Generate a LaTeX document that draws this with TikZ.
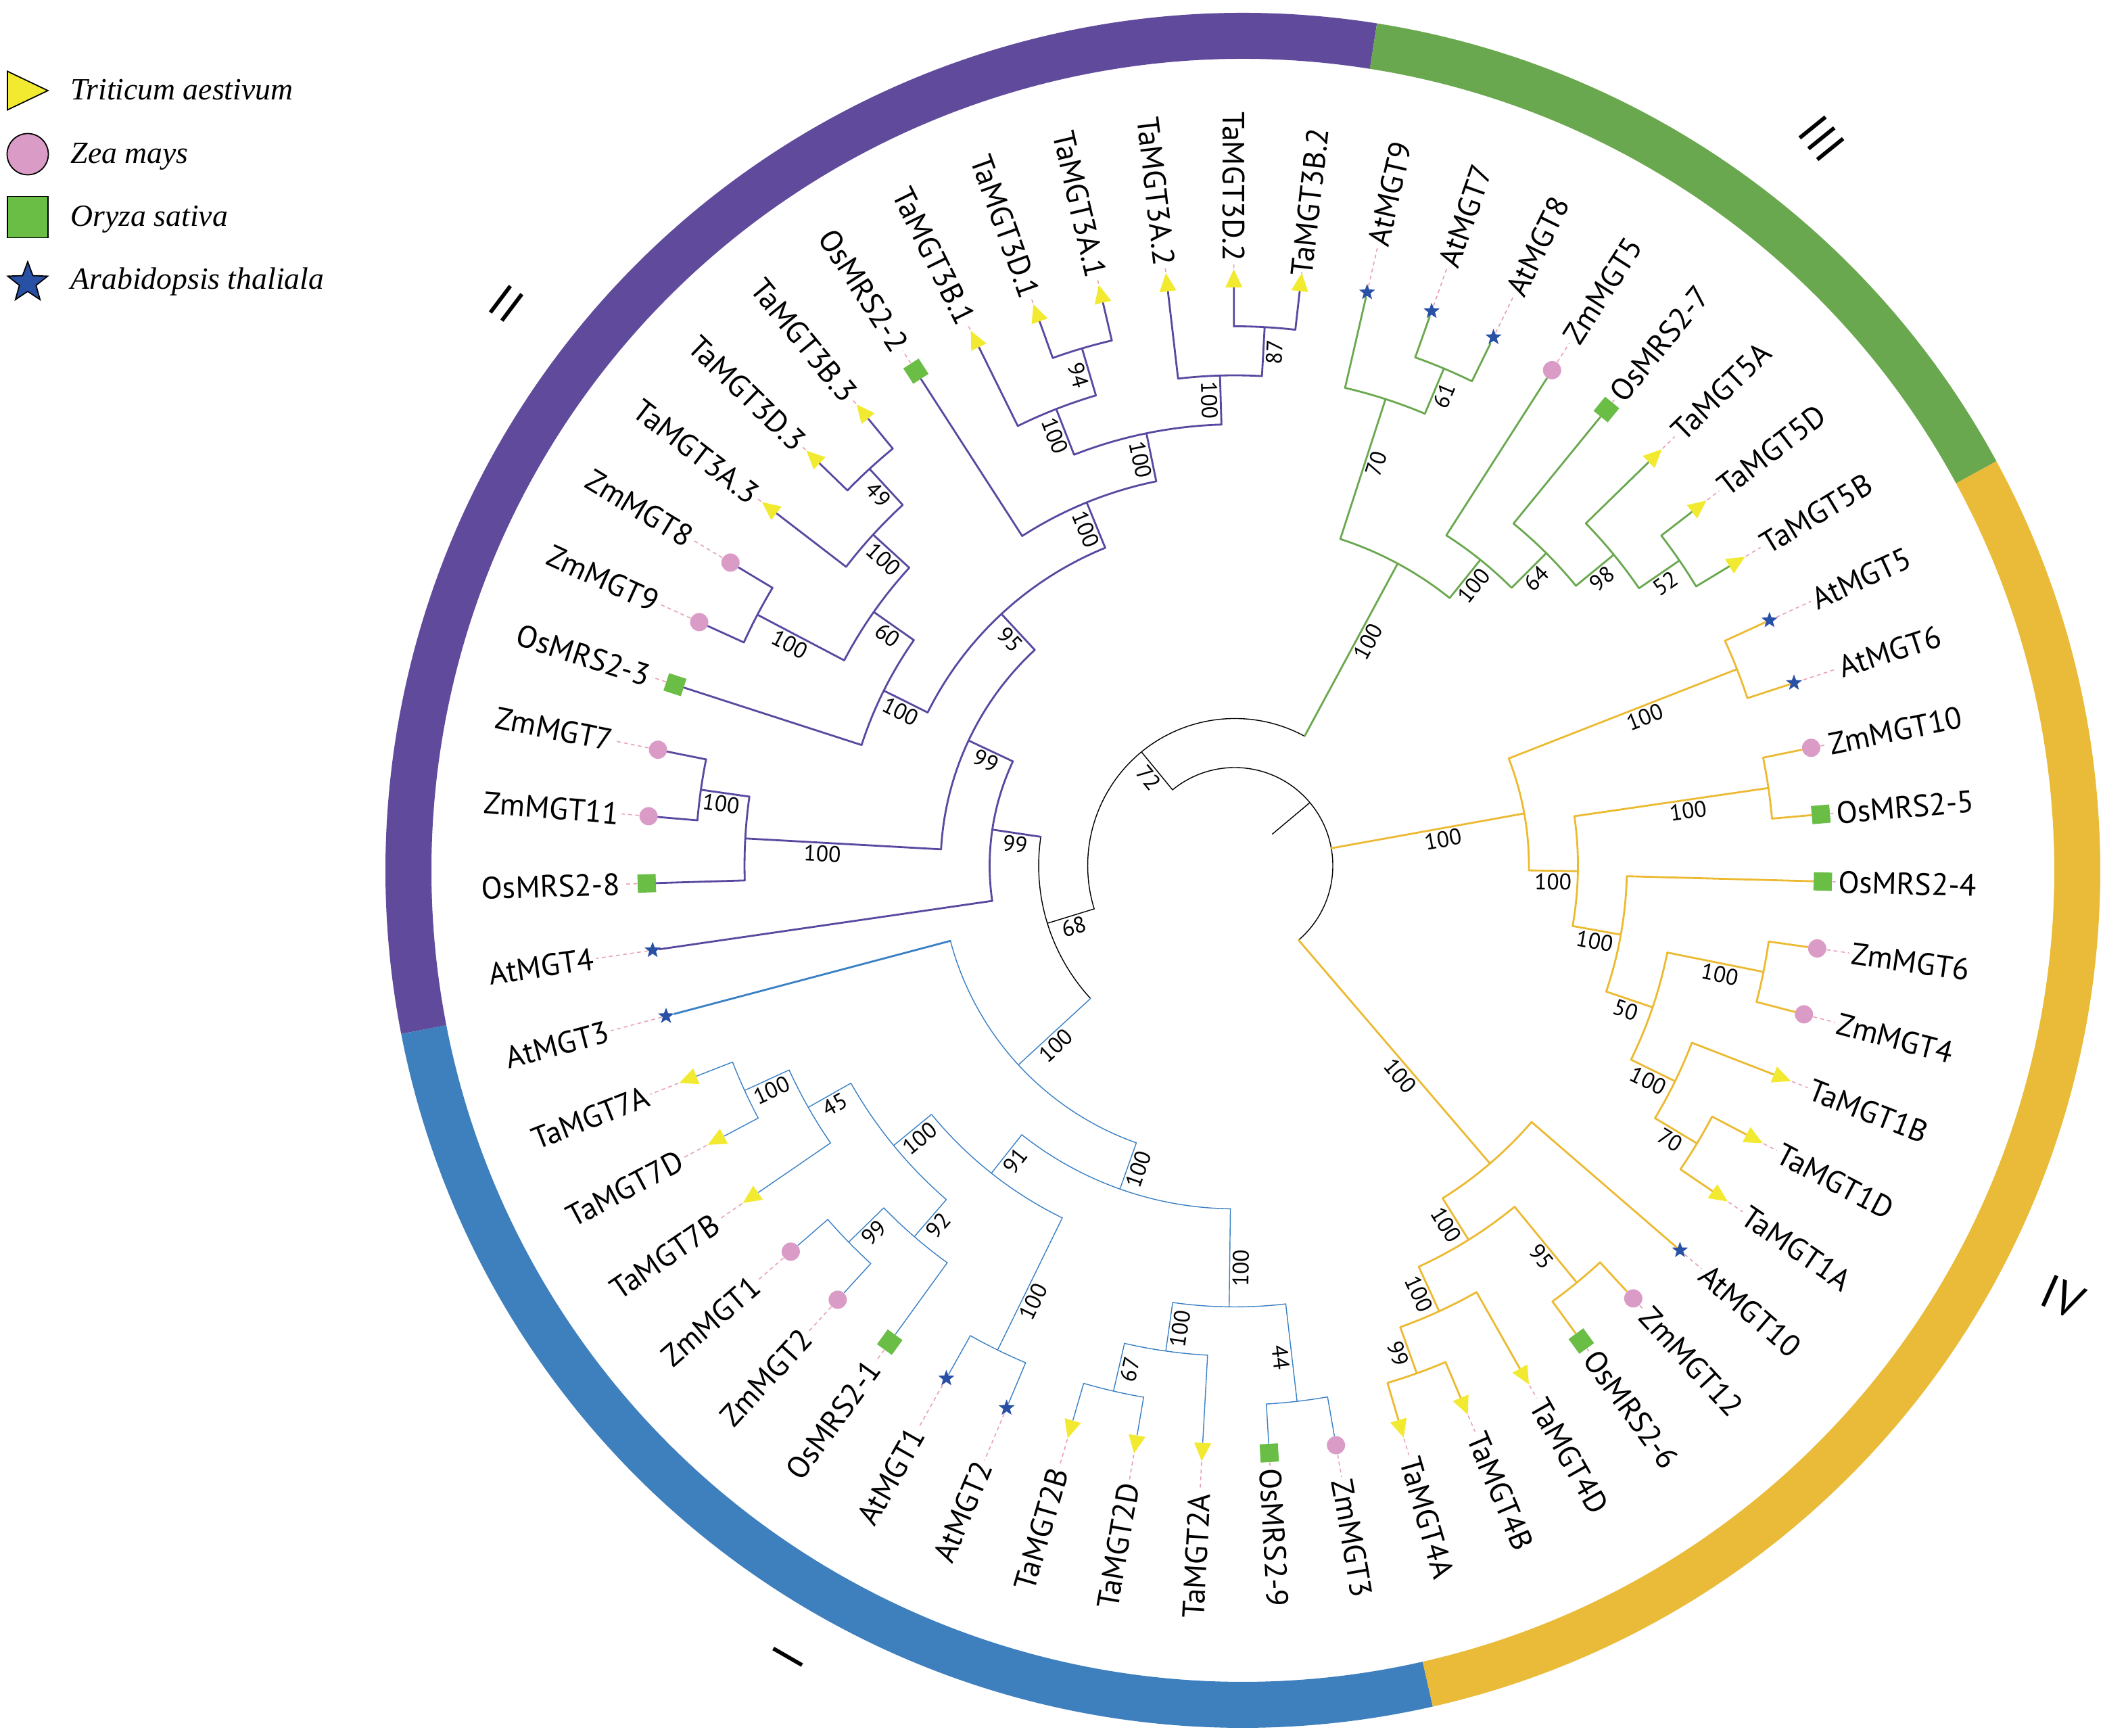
\documentclass[tikz,border=0pt]{standalone}
\usepackage{fontspec}
\setmainfont{PT Sans}
\newfontfamily\legendfont{Liberation Serif}
\usetikzlibrary{shapes.geometric}

\definecolor{ringP}{RGB}{96,74,155}
\definecolor{ringG}{RGB}{106,168,79}
\definecolor{ringY}{RGB}{233,187,56}
\definecolor{ringB}{RGB}{62,127,190}
\definecolor{clP}{RGB}{90,72,160}
\definecolor{clG}{RGB}{106,168,79}
\definecolor{clY}{RGB}{236,186,50}
\definecolor{clB}{RGB}{58,128,196}
\definecolor{clDot}{RGB}{232,160,180}
\definecolor{mkY}{RGB}{242,234,48}
\definecolor{mkP}{RGB}{218,155,198}
\definecolor{mkG}{RGB}{106,189,69}
\definecolor{mkB}{RGB}{40,80,165}

\begin{document}
\begin{tikzpicture}
[brG/.style={draw=clG, line width=0.8pt, line cap=round},
brP/.style={draw=clP, line width=0.8pt, line cap=round},
brY/.style={draw=clY, line width=0.8pt, line cap=round},
brB/.style={draw=clB, line width=0.4pt, line cap=round},
brK/.style={draw=black, line width=0.4pt, line cap=round},
ring/.style={line width=0.68cm},
tri/.style={isosceles triangle, isosceles triangle apex angle=50, fill=mkY, inner sep=0pt, minimum height=0.27cm},
circ/.style={circle, fill=mkP, inner sep=0pt, minimum size=0.27cm},
sq/.style={rectangle, fill=mkG, inner sep=0pt, minimum size=0.27cm},
st/.style={star, star points=5, star point ratio=2.4, fill=mkB, inner sep=0pt, minimum size=0.25cm},
lbl/.style={font=\fontsize{13}{15}\selectfont, inner sep=0pt},
lblR/.style={lbl, anchor=east},
lblL/.style={lbl, anchor=west},
bs/.style={font=\fontsize{9.5}{11}\selectfont, anchor=north, inner sep=1pt},
dots/.style={draw=clDot, line width=0.45pt, dash pattern=on 1.6pt off 1.4pt, shorten >=1pt},
num/.style={font=\fontsize{20}{24}\selectfont, inner sep=0pt},
leg/.style={font=\legendfont\itshape\fontsize{13}{15}\selectfont, anchor=base west, inner sep=0pt}]

\useasboundingbox (0,0) rectangle (31.1,25.66);

% legend
\node[tri, draw=black, line width=0.5pt, minimum height=0.6cm, isosceles triangle apex angle=51, anchor=west] (kTa) at (0.10,24.32) {};
\node[leg] (tTa) at (1.04,24.18) {Triticum aestivum};
\node[circ, draw=black, line width=0.5pt, minimum size=0.61cm] (kZm) at (0.41,23.38) {};
\node[leg] (tZm) at (1.04,23.24) {Zea mays};
\node[sq, draw=black, line width=0.5pt, minimum width=0.6cm, minimum height=0.61cm] (kOs) at (0.41,22.45) {};
\node[leg] (tOs) at (1.04,22.31) {Oryza sativa};
\node[st, draw=black, line width=0.5pt, minimum size=0.62cm] (kAt) at (0.41,21.48) {};
\node[leg] (tAt) at (1.04,21.38) {Arabidopsis thaliala};

% outer ring
\begin{scope}[shift={(18.38,12.79)}]
\draw[ring, draw=ringP] (81:12.34) arc[start angle=81, end angle=191, radius=12.34cm];
\draw[ring, draw=ringB] (191:12.34) arc[start angle=191, end angle=282.8, radius=12.34cm];
\draw[ring, draw=ringY] (-77.2:12.34) arc[start angle=-77.2, end angle=28.5, radius=12.34cm];
\draw[ring, draw=ringG] (28.5:12.34) arc[start angle=28.5, end angle=81, radius=12.34cm];
\end{scope}

\node[num, rotate=-51] (gIII) at (26.94,23.61) {III};
\node[num, rotate=-37] (gII) at (7.49,21.17) {II};
\node[num, rotate=-24] (gIV) at (30.50,6.48) {IV};
\node[num, rotate=60] (gI) at (11.65,1.16) {I};

\begin{scope}[shift={(18.26,12.86)}]
% backbone
\draw[brK] (40:0.725) -- (40:1.45) (-49.41:1.45) arc[start angle=-49.41, end angle=129.38, radius=1.45cm];
\draw[brK] (129.38:1.45) -- (129.38:2.175) (61.66:2.175) arc[start angle=61.66, end angle=197.1, radius=2.175cm];
\draw[brK] (197.1:2.175) -- (197.1:2.9) (171.55:2.9) arc[start angle=171.55, end angle=222.64, radius=2.9cm];
\node[bs, rotate=-50.62] (b72) at (129.38:1.81) {72};
\node[bs, rotate=17.1] (b68) at (197.1:2.54) {68};

% clade III
\draw[brG] (61.66:2.175) -- (61.66:5.075) (51.23:5.075) arc[start angle=51.23, end angle=72.09, radius=5.075cm];
\draw[brG] (72.09:5.075) -- (72.09:7.25) (67.18:7.25) arc[start angle=67.18, end angle=77, radius=7.25cm];
\draw[brG] (67.18:7.25) -- (67.18:7.975) (63.91:7.975) arc[start angle=63.91, end angle=70.45, radius=7.975cm];
\draw[brG] (51.23:5.075) -- (51.23:5.8) (45.09:5.8) arc[start angle=45.09, end angle=57.36, radius=5.8cm];
\draw[brG] (45.09:5.8) -- (45.09:6.525) (39.36:6.525) arc[start angle=39.36, end angle=50.82, radius=6.525cm];
\draw[brG] (39.36:6.525) -- (39.36:7.25) (34.455:7.25) arc[start angle=34.455, end angle=44.27, radius=7.25cm];
\draw[brG] (34.455:7.25) -- (34.455:7.975) (31.18:7.975) arc[start angle=31.18, end angle=37.73, radius=7.975cm];
\node[bs, rotate=61.66] (bIII) at (61.66:3.85) {100};
\node[bs, rotate=72.09] (b70) at (72.09:6.3) {70};
\node[bs, rotate=67.18] (b61) at (67.18:7.61) {61};
\node[bs, rotate=51.23] (b100c) at (51.23:5.44) {100};
\node[bs, rotate=45.09] (b64) at (45.09:6.16) {64};
\node[bs, rotate=39.36] (b98) at (39.36:6.89) {98};
\node[bs, rotate=34.455] (b52) at (34.455:7.61) {52};

\node[st] (at9) at (77:8.7) {};
\draw[brG] (77:7.25) -- (at9);
\node[lblR, rotate=77] (lat9) at (77:10.98) {AtMGT9};
\draw[dots] (at9) -- (lat9.west);
\node[st] (at7) at (70.45:8.7) {};
\draw[brG] (70.45:7.975) -- (at7);
\node[lblR, rotate=70.45] (lat7) at (70.45:10.98) {AtMGT7};
\draw[dots] (at7) -- (lat7.west);
\node[st] (at8) at (63.91:8.7) {};
\draw[brG] (63.91:7.975) -- (at8);
\node[lblR, rotate=63.91] (lat8) at (63.91:10.98) {AtMGT8};
\draw[dots] (at8) -- (lat8.west);
\node[circ] (zm5) at (57.36:8.7) {};
\draw[brG] (57.36:5.8) -- (zm5);
\node[lblR, rotate=57.36] (lzm5) at (57.36:10.98) {ZmMGT5};
\draw[dots] (zm5) -- (lzm5.west);
\node[sq, rotate=50.82] (os27) at (50.82:8.7) {};
\draw[brG] (50.82:6.525) -- (os27);
\node[lblR, rotate=50.82] (los27) at (50.82:10.98) {OsMRS2-7};
\draw[dots] (os27) -- (los27.west);
\node[tri, rotate=44.27] (ta5a) at (44.27:8.63) {};
\draw[brG] (44.27:7.25) -- (ta5a);
\node[lblR, rotate=44.27] (lta5a) at (44.27:10.98) {TaMGT5A};
\draw[dots] (ta5a) -- (lta5a.west);
\node[tri, rotate=37.73] (ta5d) at (37.73:8.63) {};
\draw[brG] (37.73:7.975) -- (ta5d);
\node[lblR, rotate=37.73] (lta5d) at (37.73:10.98) {TaMGT5D};
\draw[dots] (ta5d) -- (lta5d.west);
\node[tri, rotate=31.18] (ta5b) at (31.18:8.63) {};
\draw[brG] (31.18:7.975) -- (ta5b);
\node[lblR, rotate=31.18] (lta5b) at (31.18:10.98) {TaMGT5B};
\draw[dots] (ta5b) -- (lta5b.west);

% clade IV
\draw[brY] (10.22:1.45) -- (10.22:4.35) (-0.93:4.35) arc[start angle=-0.93, end angle=21.365, radius=4.35cm];
\draw[brY] (21.365:4.35) -- (21.365:7.975) (18.09:7.975) arc[start angle=18.09, end angle=24.64, radius=7.975cm];
\draw[brY] (-0.93:4.35) -- (-0.93:5.075) (-10.14:5.075) arc[start angle=-10.14, end angle=8.275, radius=5.075cm];
\draw[brY] (8.275:5.075) -- (8.275:7.975) (5:7.975) arc[start angle=5, end angle=11.55, radius=7.975cm];
\draw[brY] (-10.14:5.075) -- (-10.14:5.8) (-18.73:5.8) arc[start angle=-18.73, end angle=-1.55, radius=5.8cm];
\draw[brY] (-18.73:5.8) -- (-18.73:6.525) (-26.09:6.525) arc[start angle=-26.09, end angle=-11.365, radius=6.525cm];
\draw[brY] (-11.365:6.525) -- (-11.365:7.975) (-14.64:7.975) arc[start angle=-14.64, end angle=-8.09, radius=7.975cm];
\draw[brY] (-26.09:6.525) -- (-26.09:7.25) (-31:7.25) arc[start angle=-31, end angle=-21.18, radius=7.25cm];
\draw[brY] (-31:7.25) -- (-31:7.975) (-34.27:7.975) arc[start angle=-34.27, end angle=-27.73, radius=7.975cm];
\draw[brY] (-49.41:1.45) -- (-49.41:5.8) (-58:5.8) arc[start angle=-58, end angle=-40.82, radius=5.8cm];
\draw[brY] (-58:5.8) -- (-58:6.525) (-65.36:6.525) arc[start angle=-65.36, end angle=-50.635, radius=6.525cm];
\draw[brY] (-50.635:6.525) -- (-50.635:7.975) (-53.91:7.975) arc[start angle=-53.91, end angle=-47.36, radius=7.975cm];
\draw[brY] (-65.36:6.525) -- (-65.36:7.25) (-70.275:7.25) arc[start angle=-70.275, end angle=-60.45, radius=7.25cm];
\draw[brY] (-70.275:7.25) -- (-70.275:7.975) (-73.55:7.975) arc[start angle=-73.55, end angle=-67, radius=7.975cm];
\node[bs, rotate=10.22] (bIVa) at (10.22:3.1) {100};
\node[bs, rotate=-49.41] (bIVb) at (-49.41:3.95) {100};
\node[bs, rotate=21.365] (bAt56) at (21.365:6.45) {100};
\node[bs, rotate=-0.93] (b100s) at (-0.93:4.71) {100};
\node[bs, rotate=8.275] (bZmOs) at (8.275:6.75) {100};
\node[bs, rotate=-10.14] (b100r) at (-10.14:5.44) {100};
\node[bs, rotate=-18.73] (b50) at (-18.73:6.16) {50};
\node[bs, rotate=-11.365] (bZm64) at (-11.365:7.35) {100};
\node[bs, rotate=-26.09] (b1B) at (-26.09:6.89) {100};
\node[bs, rotate=-31] (b70b) at (-31:7.61) {70};
\node[bs, rotate=-58] (b100q) at (-58:6.16) {100};
\node[bs, rotate=-50.635] (b95b) at (-50.635:7.35) {95};
\node[bs, rotate=-65.36] (b100p) at (-65.36:6.89) {100};
\node[bs, rotate=-70.275] (b99d) at (-70.275:7.61) {99};

\node[st] (at5) at (24.64:8.7) {};
\draw[brY] (24.64:7.975) -- (at5);
\node[lblR, rotate=24.64] (lat5) at (24.64:10.98) {AtMGT5};
\draw[dots] (at5) -- (lat5.west);
\node[st] (at6) at (18.09:8.7) {};
\draw[brY] (18.09:7.975) -- (at6);
\node[lblR, rotate=18.09] (lat6) at (18.09:10.98) {AtMGT6};
\draw[dots] (at6) -- (lat6.west);
\node[circ] (zm10) at (11.55:8.7) {};
\draw[brY] (11.55:7.975) -- (zm10);
\node[lblR, rotate=11.55] (lzm10) at (11.55:10.98) {ZmMGT10};
\draw[dots] (zm10) -- (lzm10.west);
\node[sq, rotate=5] (os25) at (5:8.7) {};
\draw[brY] (5:7.975) -- (os25);
\node[lblR, rotate=5] (los25) at (5:10.98) {OsMRS2-5};
\draw[dots] (os25) -- (los25.west);
\node[sq, rotate=-1.55] (os24) at (-1.55:8.7) {};
\draw[brY] (-1.55:5.8) -- (os24);
\node[lblR, rotate=-1.55] (los24) at (-1.55:10.98) {OsMRS2-4};
\draw[dots] (os24) -- (los24.west);
\node[circ] (zm6) at (-8.09:8.7) {};
\draw[brY] (-8.09:7.975) -- (zm6);
\node[lblR, rotate=-8.09] (lzm6) at (-8.09:10.98) {ZmMGT6};
\draw[dots] (zm6) -- (lzm6.west);
\node[circ] (zm4) at (-14.64:8.7) {};
\draw[brY] (-14.64:7.975) -- (zm4);
\node[lblR, rotate=-14.64] (lzm4) at (-14.64:10.98) {ZmMGT4};
\draw[dots] (zm4) -- (lzm4.west);
\node[tri, rotate=-21.18] (ta1b) at (-21.18:8.63) {};
\draw[brY] (-21.18:7.25) -- (ta1b);
\node[lblR, rotate=-21.18] (lta1b) at (-21.18:10.98) {TaMGT1B};
\draw[dots] (ta1b) -- (lta1b.west);
\node[tri, rotate=-27.73] (ta1d) at (-27.73:8.63) {};
\draw[brY] (-27.73:7.975) -- (ta1d);
\node[lblR, rotate=-27.73] (lta1d) at (-27.73:10.98) {TaMGT1D};
\draw[dots] (ta1d) -- (lta1d.west);
\node[tri, rotate=-34.27] (ta1a) at (-34.27:8.63) {};
\draw[brY] (-34.27:7.975) -- (ta1a);
\node[lblR, rotate=-34.27] (lta1a) at (-34.27:10.98) {TaMGT1A};
\draw[dots] (ta1a) -- (lta1a.west);
\node[st] (at10) at (-40.82:8.7) {};
\draw[brY] (-40.82:5.8) -- (at10);
\node[lblR, rotate=-40.82] (lat10) at (-40.82:10.98) {AtMGT10};
\draw[dots] (at10) -- (lat10.west);
\node[circ] (zm12) at (-47.36:8.7) {};
\draw[brY] (-47.36:7.975) -- (zm12);
\node[lblR, rotate=-47.36] (lzm12) at (-47.36:10.98) {ZmMGT12};
\draw[dots] (zm12) -- (lzm12.west);
\node[sq, rotate=-53.91] (os26) at (-53.91:8.7) {};
\draw[brY] (-53.91:7.975) -- (os26);
\node[lblR, rotate=-53.91] (los26) at (-53.91:10.98) {OsMRS2-6};
\draw[dots] (os26) -- (los26.west);
\node[tri, rotate=-60.45] (ta4d) at (-60.45:8.63) {};
\draw[brY] (-60.45:7.25) -- (ta4d);
\node[lblR, rotate=-60.45] (lta4d) at (-60.45:10.98) {TaMGT4D};
\draw[dots] (ta4d) -- (lta4d.west);
\node[tri, rotate=-67] (ta4b) at (-67:8.63) {};
\draw[brY] (-67:7.975) -- (ta4b);
\node[lblR, rotate=-67] (lta4b) at (-67:10.98) {TaMGT4B};
\draw[dots] (ta4b) -- (lta4b.west);
\node[tri, rotate=-73.55] (ta4a) at (-73.55:8.63) {};
\draw[brY] (-73.55:7.975) -- (ta4a);
\node[lblR, rotate=-73.55] (lta4a) at (-73.55:10.98) {TaMGT4A};
\draw[dots] (ta4a) -- (lta4a.west);

% clade I
\draw[brB] (222.64:2.9) -- (222.64:4.35) (194.82:4.35) arc[start angle=194.82, end angle=250.45, radius=4.35cm];
\draw[brB] (250.45:4.35) -- (250.45:5.075) (231.64:5.075) arc[start angle=231.64, end angle=269.27, radius=5.075cm];
\draw[brB] (231.64:5.075) -- (231.64:5.8) (219.36:5.8) arc[start angle=219.36, end angle=243.91, radius=5.8cm];
\draw[brB] (219.36:5.8) -- (219.36:6.525) (209.54:6.525) arc[start angle=209.54, end angle=229.18, radius=6.525cm];
\draw[brB] (209.54:6.525) -- (209.54:7.25) (204.635:7.25) arc[start angle=204.635, end angle=214.45, radius=7.25cm];
\draw[brB] (204.635:7.25) -- (204.635:7.975) (201.36:7.975) arc[start angle=201.36, end angle=207.91, radius=7.975cm];
\draw[brB] (229.18:6.525) -- (229.18:7.25) (224.275:7.25) arc[start angle=224.275, end angle=234.09, radius=7.25cm];
\draw[brB] (224.275:7.25) -- (224.275:7.975) (221:7.975) arc[start angle=221, end angle=227.55, radius=7.975cm];
\draw[brB] (243.91:5.8) -- (243.91:7.975) (240.64:7.975) arc[start angle=240.64, end angle=247.18, radius=7.975cm];
\draw[brB] (269.27:5.075) -- (269.27:6.525) (261.91:6.525) arc[start angle=261.91, end angle=276.635, radius=6.525cm];
\draw[brB] (261.91:6.525) -- (261.91:7.25) (257:7.25) arc[start angle=257, end angle=266.82, radius=7.25cm];
\draw[brB] (257:7.25) -- (257:7.975) (253.73:7.975) arc[start angle=253.73, end angle=260.27, radius=7.975cm];
\draw[brB] (276.635:6.525) -- (276.635:7.975) (273.36:7.975) arc[start angle=273.36, end angle=279.91, radius=7.975cm];
\node[bs, rotate=42.64] (bI) at (222.64:3.75) {100};
\node[bs, rotate=70.45] (b100a) at (250.45:4.71) {100};
\node[bs, rotate=51.64] (b91) at (231.64:5.44) {91};
\node[bs, rotate=39.36] (b100l) at (219.36:6.16) {100};
\node[bs, rotate=29.54] (b45) at (209.54:6.89) {45};
\node[bs, rotate=24.635] (b7AD) at (204.635:7.61) {100};
\node[bs, rotate=49.18] (b92) at (229.18:6.89) {92};
\node[bs, rotate=44.275] (bZm12) at (224.275:7.61) {99};
\node[bs, rotate=63.91] (b100m) at (243.91:7.1) {100};
\node[bs, rotate=89.27] (b100k) at (269.27:5.95) {100};
\node[bs, rotate=81.91] (b100j) at (261.91:6.89) {100};
\node[bs, rotate=77] (b67) at (257:7.61) {67};
\node[bs, rotate=-83.365] (b44) at (-83.365:7.3) {44};

\node[circ] (zm3) at (-80.09:8.7) {};
\draw[brB] (-80.09:7.975) -- (zm3);
\node[lblR, rotate=-80.09] (lzm3) at (-80.09:10.98) {ZmMGT3};
\draw[dots] (zm3) -- (lzm3.west);
\node[sq, rotate=-86.64] (os29) at (-86.64:8.7) {};
\draw[brB] (-86.64:7.975) -- (os29);
\node[lblR, rotate=-86.64] (los29) at (-86.64:10.98) {OsMRS2-9};
\draw[dots] (os29) -- (los29.west);
\node[tri, rotate=266.82] (ta2a) at (266.82:8.63) {};
\draw[brB] (266.82:7.25) -- (ta2a);
\node[lblL, rotate=86.82] (lta2a) at (266.82:11.15) {TaMGT2A};
\draw[dots] (ta2a) -- (lta2a.east);
\node[tri, rotate=260.27] (ta2d) at (260.27:8.63) {};
\draw[brB] (260.27:7.975) -- (ta2d);
\node[lblL, rotate=80.27] (lta2d) at (260.27:11.15) {TaMGT2D};
\draw[dots] (ta2d) -- (lta2d.east);
\node[tri, rotate=253.73] (ta2b) at (253.73:8.63) {};
\draw[brB] (253.73:7.975) -- (ta2b);
\node[lblL, rotate=73.73] (lta2b) at (253.73:11.15) {TaMGT2B};
\draw[dots] (ta2b) -- (lta2b.east);
\node[st] (at2) at (247.18:8.7) {};
\draw[brB] (247.18:7.975) -- (at2);
\node[lblL, rotate=67.18] (lat2) at (247.18:11.15) {AtMGT2};
\draw[dots] (at2) -- (lat2.east);
\node[st] (at1) at (240.64:8.7) {};
\draw[brB] (240.64:7.975) -- (at1);
\node[lblL, rotate=60.64] (lat1) at (240.64:11.15) {AtMGT1};
\draw[dots] (at1) -- (lat1.east);
\node[sq, rotate=234.09] (os21) at (234.09:8.7) {};
\draw[brB] (234.09:7.25) -- (os21);
\node[lblL, rotate=54.09] (los21) at (234.09:11.15) {OsMRS2-1};
\draw[dots] (os21) -- (los21.east);
\node[circ] (zm2) at (227.55:8.7) {};
\draw[brB] (227.55:7.975) -- (zm2);
\node[lblL, rotate=47.55] (lzm2) at (227.55:11.15) {ZmMGT2};
\draw[dots] (zm2) -- (lzm2.east);
\node[circ] (zm1) at (221:8.7) {};
\draw[brB] (221:7.975) -- (zm1);
\node[lblL, rotate=41] (lzm1) at (221:11.15) {ZmMGT1};
\draw[dots] (zm1) -- (lzm1.east);
\node[tri, rotate=214.45] (ta7b) at (214.45:8.63) {};
\draw[brB] (214.45:7.25) -- (ta7b);
\node[lblL, rotate=34.45] (lta7b) at (214.45:11.15) {TaMGT7B};
\draw[dots] (ta7b) -- (lta7b.east);
\node[tri, rotate=207.91] (ta7d) at (207.91:8.63) {};
\draw[brB] (207.91:7.975) -- (ta7d);
\node[lblL, rotate=27.91] (lta7d) at (207.91:11.15) {TaMGT7D};
\draw[dots] (ta7d) -- (lta7d.east);
\node[tri, rotate=201.36] (ta7a) at (201.36:8.63) {};
\draw[brB] (201.36:7.975) -- (ta7a);
\node[lblL, rotate=21.36] (lta7a) at (201.36:11.15) {TaMGT7A};
\draw[dots] (ta7a) -- (lta7a.east);
\node[st] (at3) at (194.82:8.7) {};
\draw[brB, line width=0.8pt] (194.82:4.35) -- (at3);
\node[lblL, rotate=14.82] (lat3) at (194.82:11.15) {AtMGT3};
\draw[dots] (at3) -- (lat3.east);

% clade II
\draw[brP] (171.55:2.9) -- (171.55:3.625) (154.83:3.625) arc[start angle=154.83, end angle=188.27, radius=3.625cm];
\draw[brP] (154.83:3.625) -- (154.83:4.35) (132.84:4.35) arc[start angle=132.84, end angle=176.82, radius=4.35cm];
\draw[brP] (176.82:4.35) -- (176.82:7.25) (171.91:7.25) arc[start angle=171.91, end angle=181.73, radius=7.25cm];
\draw[brP] (171.91:7.25) -- (171.91:7.975) (168.64:7.975) arc[start angle=168.64, end angle=175.18, radius=7.975cm];
\draw[brP] (132.84:4.35) -- (132.84:5.075) (112.18:5.075) arc[start angle=112.18, end angle=153.5, radius=5.075cm];
\draw[brP] (153.5:5.075) -- (153.5:5.8) (144.91:5.8) arc[start angle=144.91, end angle=162.09, radius=5.8cm];
\draw[brP] (144.91:5.8) -- (144.91:6.525) (137.54:6.525) arc[start angle=137.54, end angle=152.275, radius=6.525cm];
\draw[brP] (152.275:6.525) -- (152.275:7.975) (149:7.975) arc[start angle=149, end angle=155.55, radius=7.975cm];
\draw[brP] (137.54:6.525) -- (137.54:7.25) (132.635:7.25) arc[start angle=132.635, end angle=142.45, radius=7.25cm];
\draw[brP] (132.635:7.25) -- (132.635:7.975) (129.36:7.975) arc[start angle=129.36, end angle=135.91, radius=7.975cm];
\draw[brP] (112.18:5.075) -- (112.18:5.8) (101.55:5.8) arc[start angle=101.55, end angle=122.82, radius=5.8cm];
\draw[brP] (101.55:5.8) -- (101.55:6.525) (91.73:6.525) arc[start angle=91.73, end angle=111.36, radius=6.525cm];
\draw[brP] (111.36:6.525) -- (111.36:7.25) (106.455:7.25) arc[start angle=106.455, end angle=116.27, radius=7.25cm];
\draw[brP] (106.455:7.25) -- (106.455:7.975) (103.18:7.975) arc[start angle=103.18, end angle=109.73, radius=7.975cm];
\draw[brP] (91.73:6.525) -- (91.73:7.25) (86.82:7.25) arc[start angle=86.82, end angle=96.64, radius=7.25cm];
\draw[brP] (86.82:7.25) -- (86.82:7.975) (83.55:7.975) arc[start angle=83.55, end angle=90.09, radius=7.975cm];
\node[bs, rotate=-8.45] (bII) at (171.55:3.26) {99};
\node[bs, rotate=-25.17] (b99b) at (154.83:3.99) {99};
\node[bs, rotate=-3.18] (b100cc) at (176.82:6.1) {100};
\node[bs, rotate=-8.09] (bZm711) at (171.91:7.65) {100};
\node[bs, rotate=-47.16] (b95) at (132.84:4.71) {95};
\node[bs, rotate=-26.5] (b100d) at (153.5:5.44) {100};
\node[bs, rotate=-35.09] (b60) at (144.91:6.16) {60};
\node[bs, rotate=-27.725] (bZm98) at (152.275:7.35) {100};
\node[bs, rotate=-42.46] (b100e) at (137.54:6.89) {100};
\node[bs, rotate=-47.365] (b49) at (132.635:7.61) {49};
\node[bs, rotate=-67.82] (b100f) at (112.18:5.44) {100};
\node[bs, rotate=-78.45] (b100g) at (101.55:6.16) {100};
\node[bs, rotate=-68.64] (b100h) at (111.36:6.89) {100};
\node[bs, rotate=-73.545] (b94) at (106.455:7.61) {94};
\node[bs, rotate=-88.27] (b100i) at (91.73:6.89) {100};
\node[bs, rotate=86.82] (b87) at (86.82:7.61) {87};

\node[st] (at4) at (188.27:8.7) {};
\draw[brP] (188.27:3.625) -- (at4);
\node[lblL, rotate=8.27] (lat4) at (188.27:11.15) {AtMGT4};
\draw[dots] (at4) -- (lat4.east);
\node[sq, rotate=181.73] (os28) at (181.73:8.7) {};
\draw[brP] (181.73:7.25) -- (os28);
\node[lblL, rotate=1.73] (los28) at (181.73:11.15) {OsMRS2-8};
\draw[dots] (os28) -- (los28.east);
\node[circ] (zm11) at (175.18:8.7) {};
\draw[brP] (175.18:7.975) -- (zm11);
\node[lblL, rotate=-4.82] (lzm11) at (175.18:11.15) {ZmMGT11};
\draw[dots] (zm11) -- (lzm11.east);
\node[circ] (zm7) at (168.64:8.7) {};
\draw[brP] (168.64:7.975) -- (zm7);
\node[lblL, rotate=-11.36] (lzm7) at (168.64:11.15) {ZmMGT7};
\draw[dots] (zm7) -- (lzm7.east);
\node[sq, rotate=162.09] (os23) at (162.09:8.7) {};
\draw[brP] (162.09:5.8) -- (os23);
\node[lblL, rotate=-17.91] (los23) at (162.09:11.15) {OsMRS2-3};
\draw[dots] (os23) -- (los23.east);
\node[circ] (zm9) at (155.55:8.7) {};
\draw[brP] (155.55:7.975) -- (zm9);
\node[lblL, rotate=-24.45] (lzm9) at (155.55:11.15) {ZmMGT9};
\draw[dots] (zm9) -- (lzm9.east);
\node[circ] (zm8) at (149:8.7) {};
\draw[brP] (149:7.975) -- (zm8);
\node[lblL, rotate=-31] (lzm8) at (149:11.15) {ZmMGT8};
\draw[dots] (zm8) -- (lzm8.east);
\node[tri, rotate=142.45] (ta3a3) at (142.45:8.63) {};
\draw[brP] (142.45:7.25) -- (ta3a3);
\node[lblL, rotate=-37.55] (lta3a3) at (142.45:11.15) {TaMGT3A.3};
\draw[dots] (ta3a3) -- (lta3a3.east);
\node[tri, rotate=135.91] (ta3d3) at (135.91:8.63) {};
\draw[brP] (135.91:7.975) -- (ta3d3);
\node[lblL, rotate=-44.09] (lta3d3) at (135.91:11.15) {TaMGT3D.3};
\draw[dots] (ta3d3) -- (lta3d3.east);
\node[tri, rotate=129.36] (ta3b3) at (129.36:8.63) {};
\draw[brP] (129.36:7.975) -- (ta3b3);
\node[lblL, rotate=-50.64] (lta3b3) at (129.36:11.15) {TaMGT3B.3};
\draw[dots] (ta3b3) -- (lta3b3.east);
\node[sq, rotate=122.82] (os22) at (122.82:8.7) {};
\draw[brP] (122.82:5.8) -- (os22);
\node[lblL, rotate=-57.18] (los22) at (122.82:11.15) {OsMRS2-2};
\draw[dots] (os22) -- (los22.east);
\node[tri, rotate=116.27] (ta3b1) at (116.27:8.63) {};
\draw[brP] (116.27:7.25) -- (ta3b1);
\node[lblL, rotate=-63.73] (lta3b1) at (116.27:11.15) {TaMGT3B.1};
\draw[dots] (ta3b1) -- (lta3b1.east);
\node[tri, rotate=109.73] (ta3d1) at (109.73:8.63) {};
\draw[brP] (109.73:7.975) -- (ta3d1);
\node[lblL, rotate=-70.27] (lta3d1) at (109.73:11.15) {TaMGT3D.1};
\draw[dots] (ta3d1) -- (lta3d1.east);
\node[tri, rotate=103.18] (ta3a1) at (103.18:8.63) {};
\draw[brP] (103.18:7.975) -- (ta3a1);
\node[lblL, rotate=-76.82] (lta3a1) at (103.18:11.15) {TaMGT3A.1};
\draw[dots] (ta3a1) -- (lta3a1.east);
\node[tri, rotate=96.64] (ta3a2) at (96.64:8.63) {};
\draw[brP] (96.64:7.25) -- (ta3a2);
\node[lblL, rotate=-83.36] (lta3a2) at (96.64:11.15) {TaMGT3A.2};
\draw[dots] (ta3a2) -- (lta3a2.east);
\node[tri, rotate=90.09] (ta3d2) at (90.09:8.63) {};
\draw[brP] (90.09:7.975) -- (ta3d2);
\node[lblL, rotate=-89.91] (lta3d2) at (90.09:11.15) {TaMGT3D.2};
\draw[dots] (ta3d2) -- (lta3d2.east);
\node[tri, rotate=83.55] (ta3b2) at (83.55:8.63) {};
\draw[brP] (83.55:7.975) -- (ta3b2);
\node[lblR, rotate=83.55] (lta3b2) at (83.55:10.98) {TaMGT3B.2};
\draw[dots] (ta3b2) -- (lta3b2.west);
\end{scope}
\end{tikzpicture}
\end{document}
